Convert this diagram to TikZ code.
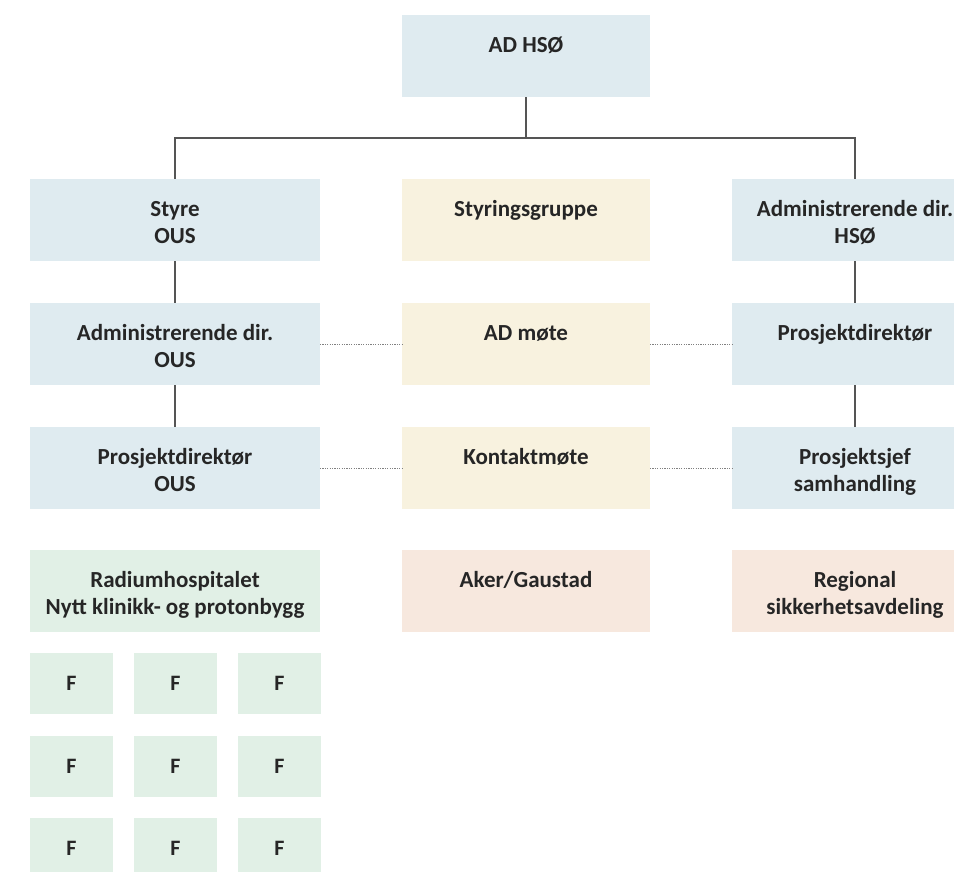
\documentclass[tikz,border=0pt]{standalone}
\usepackage{fontspec}
\setmainfont{Carlito}
\definecolor{cblue}{HTML}{DFEBF0}
\definecolor{ccream}{HTML}{F8F2DF}
\definecolor{cgreen}{HTML}{E1F0E6}
\definecolor{cpeach}{HTML}{F7E8DE}
\definecolor{ctext}{HTML}{262626}
\definecolor{cline}{HTML}{555555}
\begin{document}
\begin{tikzpicture}[x=1pt,y=-1pt,
  box/.style={draw=none,inner sep=0,outer sep=0,anchor=north west,minimum height=82pt},
  bluebox/.style={box,fill=cblue},
  creambox/.style={box,fill=ccream},
  greenbox/.style={box,fill=cgreen},
  peachbox/.style={box,fill=cpeach},
  fbox/.style={box,fill=cgreen,minimum width=83pt,minimum height=61pt},
  txt/.style={anchor=north,inner sep=0,align=center,text=ctext,font=\fontsize{23}{27}\selectfont\bfseries},
  ftxt/.style={inner sep=0,text=ctext,font=\fontsize{22}{27}\selectfont\bfseries},
  conn/.style={draw=cline,line width=1.1pt},
  dotconn/.style={draw=gray,line width=0.9pt,dash pattern=on 1.2pt off 1.2pt}]
\useasboundingbox (0,0) rectangle (954,871);
\clip (0,0) rectangle (954,871);
\fill[white] (0,0) rectangle (954,871);
% boxes
\node[bluebox,minimum width=248pt] (ad) at (402,15) {};
\node[bluebox,minimum width=290pt] (styre) at (30,179) {};
\node[creambox,minimum width=248pt] (sg) at (402,179) {};
\node[bluebox,minimum width=246pt] (adhso) at (732,179) {};
\node[bluebox,minimum width=290pt] (adous) at (30,303) {};
\node[creambox,minimum width=248pt] (admote) at (402,303) {};
\node[bluebox,minimum width=246pt] (pdir) at (732,303) {};
\node[bluebox,minimum width=290pt] (pdous) at (30,427) {};
\node[creambox,minimum width=248pt] (kontakt) at (402,427) {};
\node[bluebox,minimum width=246pt] (psjef) at (732,427) {};
\node[greenbox,minimum width=290pt] (radium) at (30,550) {};
\node[peachbox,minimum width=248pt] (aker) at (402,550) {};
\node[peachbox,minimum width=246pt] (regional) at (732,550) {};
% F boxes
\foreach \r/\yy in {1/653,2/736,3/818}{
  \foreach \c/\xx in {1/30,2/134,3/238}{
    \node[fbox] (f\r\c) at (\xx,\yy) {};
    \node[ftxt] (ft\r\c) at (f\r\c.center) {F};
  }
}
% texts
\node[txt] (tad) at ([yshift=-18pt]ad.north) {\strut AD HSØ};
\node[txt] (tstyre) at ([yshift=-18pt]styre.north) {\strut Styre\\OUS};
\node[txt] (tsg) at ([yshift=-18pt]sg.north) {\strut Styringsgruppe};
\node[txt] (tadhso) at ([yshift=-18pt]adhso.north) {\strut Administrerende dir.\\HSØ};
\node[txt] (tadous) at ([yshift=-18pt]adous.north) {\strut Administrerende dir.\\OUS};
\node[txt] (tadmote) at ([yshift=-18pt]admote.north) {\strut AD møte};
\node[txt] (tpdir) at ([yshift=-18pt]pdir.north) {\strut Prosjektdirektør};
\node[txt] (tpdous) at ([yshift=-18pt]pdous.north) {\strut Prosjektdirektør\\OUS};
\node[txt] (tkontakt) at ([yshift=-18pt]kontakt.north) {\strut Kontaktmøte};
\node[txt] (tpsjef) at ([yshift=-18pt]psjef.north) {\strut Prosjektsjef\\samhandling};
\node[txt] (tradium) at ([yshift=-18pt]radium.north) {\strut Radiumhospitalet\\Nytt klinikk- og protonbygg};
\node[txt] (taker) at ([yshift=-18pt]aker.north) {\strut Aker/Gaustad};
\node[txt] (tregional) at ([yshift=-18pt]regional.north) {\strut Regional\\sikkerhetsavdeling};
% connectors
\draw[conn] (ad.south) -- ++(0,41) -| (styre.north);
\draw[conn] (ad.south) -- ++(0,41) -| (adhso.north);
\draw[conn] (styre.south) -- (adous.north);
\draw[conn] (adous.south) -- (pdous.north);
\draw[conn] (adhso.south) -- (pdir.north);
\draw[conn] (pdir.south) -- (psjef.north);
\draw[dotconn] (adous.east) -- (admote.west);
\draw[dotconn] (admote.east) -- (pdir.west);
\draw[dotconn] (pdous.east) -- (kontakt.west);
\draw[dotconn] (kontakt.east) -- (psjef.west);
\end{tikzpicture}
\end{document}
